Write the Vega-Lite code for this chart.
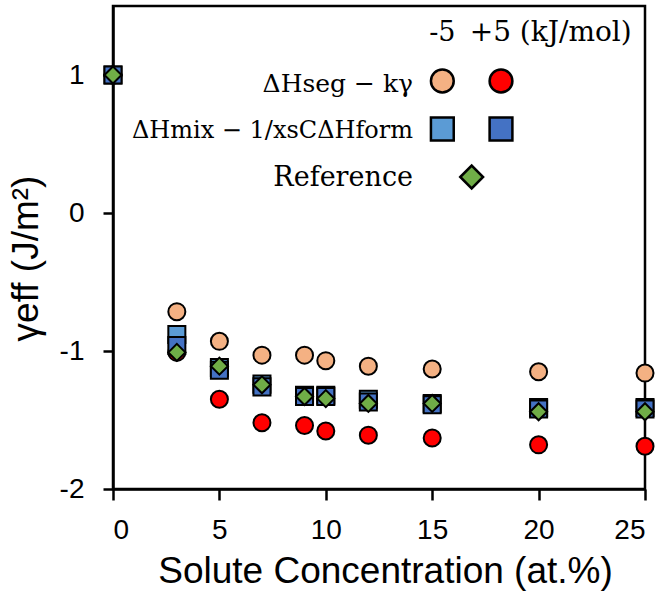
{
  "$schema": "https://vega.github.io/schema/vega-lite/v6.json",
  "width": 532,
  "height": 483,
  "autosize": {"type": "none"},
  "padding": {"left": 113, "top": 6, "right": 20, "bottom": 113},
  "background": "white",
  "config": {
    "view": {"stroke": "black", "strokeWidth": 2.5},
    "font": "Liberation Sans",
    "axis": {
      "grid": false,
      "domainColor": "black",
      "domainWidth": 2.5,
      "tickColor": "black",
      "tickWidth": 2.5,
      "labelColor": "black",
      "labelFont": "Liberation Sans",
      "labelFontSize": 28,
      "titleFont": "Liberation Sans",
      "titleFontSize": 37,
      "titleFontWeight": "normal",
      "titleColor": "black"
    }
  },
  "datasets": {
    "points": [
      {"conc": 0, "gamma": 1, "series": "seg-5"},
      {"conc": 3, "gamma": -0.715, "series": "seg-5"},
      {"conc": 5, "gamma": -0.93, "series": "seg-5"},
      {"conc": 7, "gamma": -1.03, "series": "seg-5"},
      {"conc": 9, "gamma": -1.03, "series": "seg-5"},
      {"conc": 10, "gamma": -1.07, "series": "seg-5"},
      {"conc": 12, "gamma": -1.11, "series": "seg-5"},
      {"conc": 15, "gamma": -1.13, "series": "seg-5"},
      {"conc": 20, "gamma": -1.15, "series": "seg-5"},
      {"conc": 25, "gamma": -1.16, "series": "seg-5"},
      {"conc": 0, "gamma": 1, "series": "seg+5"},
      {"conc": 3, "gamma": -1.01, "series": "seg+5"},
      {"conc": 5, "gamma": -1.35, "series": "seg+5"},
      {"conc": 7, "gamma": -1.52, "series": "seg+5"},
      {"conc": 9, "gamma": -1.54, "series": "seg+5"},
      {"conc": 10, "gamma": -1.58, "series": "seg+5"},
      {"conc": 12, "gamma": -1.61, "series": "seg+5"},
      {"conc": 15, "gamma": -1.63, "series": "seg+5"},
      {"conc": 20, "gamma": -1.68, "series": "seg+5"},
      {"conc": 25, "gamma": -1.69, "series": "seg+5"},
      {"conc": 0, "gamma": 1, "series": "mix-5"},
      {"conc": 3, "gamma": -0.88, "series": "mix-5"},
      {"conc": 5, "gamma": -1.12, "series": "mix-5"},
      {"conc": 7, "gamma": -1.24, "series": "mix-5"},
      {"conc": 9, "gamma": -1.32, "series": "mix-5"},
      {"conc": 10, "gamma": -1.32, "series": "mix-5"},
      {"conc": 12, "gamma": -1.35, "series": "mix-5"},
      {"conc": 15, "gamma": -1.38, "series": "mix-5"},
      {"conc": 20, "gamma": -1.41, "series": "mix-5"},
      {"conc": 25, "gamma": -1.41, "series": "mix-5"},
      {"conc": 0, "gamma": 1, "series": "mix+5"},
      {"conc": 3, "gamma": -0.96, "series": "mix+5"},
      {"conc": 5, "gamma": -1.14, "series": "mix+5"},
      {"conc": 7, "gamma": -1.26, "series": "mix+5"},
      {"conc": 9, "gamma": -1.33, "series": "mix+5"},
      {"conc": 10, "gamma": -1.33, "series": "mix+5"},
      {"conc": 12, "gamma": -1.37, "series": "mix+5"},
      {"conc": 15, "gamma": -1.39, "series": "mix+5"},
      {"conc": 20, "gamma": -1.42, "series": "mix+5"},
      {"conc": 25, "gamma": -1.42, "series": "mix+5"},
      {"conc": 0, "gamma": 1, "series": "ref"},
      {"conc": 3, "gamma": -1.01, "series": "ref"},
      {"conc": 5, "gamma": -1.11, "series": "ref"},
      {"conc": 7, "gamma": -1.245, "series": "ref"},
      {"conc": 9, "gamma": -1.33, "series": "ref"},
      {"conc": 10, "gamma": -1.345, "series": "ref"},
      {"conc": 12, "gamma": -1.38, "series": "ref"},
      {"conc": 15, "gamma": -1.38, "series": "ref"},
      {"conc": 20, "gamma": -1.44, "series": "ref"},
      {"conc": 25, "gamma": -1.44, "series": "ref"}
    ],
    "legend": [
      {"row": "header", "col": "-5", "kind": "head5", "label": "-5"},
      {"row": "header", "col": "ref", "kind": "headplus", "label": "+5 (kJ/mol)"},
      {"row": "seg", "col": "label", "kind": "labelseg", "label": "ΔHseg − kγ"},
      {"row": "mix", "col": "label", "kind": "labelmix", "label": "ΔHmix − 1/xsCΔHform"},
      {"row": "ref", "col": "label", "kind": "labelref", "label": "Reference"},
      {"row": "seg", "col": "-5", "kind": "symbol", "series": "seg-5"},
      {"row": "seg", "col": "+5", "kind": "symbol", "series": "seg+5"},
      {"row": "mix", "col": "-5", "kind": "symbol", "series": "mix-5"},
      {"row": "mix", "col": "+5", "kind": "symbol", "series": "mix+5"},
      {"row": "ref", "col": "ref", "kind": "symbol", "series": "ref"}
    ]
  },
  "layer": [
    {
      "data": {"name": "points"},
      "mark": {"type": "point", "filled": true, "stroke": "black", "strokeWidth": 2, "size": 290, "opacity": 1, "fillOpacity": 1, "strokeOpacity": 1},
      "encoding": {
        "x": {
          "field": "conc", "type": "quantitative",
          "scale": {"domain": [0, 25], "nice": false, "zero": false},
          "axis": {
            "values": [0, 5, 10, 15, 20, 25],
            "tickSize": 11,
            "labelPadding": 16,
            "title": "Solute Concentration (at.%)",
            "titleX": 272,
            "titleY": 93,
            "titleAlign": "center",
            "titleBaseline": "alphabetic",
            "titleAnchor": null
          }
        },
        "y": {
          "field": "gamma", "type": "quantitative",
          "scale": {"domain": [-2, 1.5], "nice": false, "zero": false},
          "axis": {
            "values": [-2, -1, 0, 1],
            "tickSize": 10,
            "labelPadding": 19,
            "labelExpr": "replace(datum.label, '−', '-')",
            "title": "γeff (J/m²)",
            "titleX": -76,
            "titleY": 252,
            "titleAngle": -90,
            "titleAlign": "center",
            "titleBaseline": "alphabetic",
            "titleAnchor": null
          }
        },
        "shape": {
          "field": "series", "type": "nominal",
          "scale": {"domain": ["seg-5", "seg+5", "mix-5", "mix+5", "ref"], "range": ["circle", "circle", "square", "square", "diamond"]},
          "legend": null
        },
        "fill": {
          "field": "series", "type": "nominal",
          "scale": {"domain": ["seg-5", "seg+5", "mix-5", "mix+5", "ref"], "range": ["#F4B183", "#FF0000", "#5B9BD5", "#4472C4", "#70AD47"]},
          "legend": null
        }
      }
    },
    {
      "data": {"name": "legend"},
      "encoding": {
        "x": {
          "field": "col", "type": "nominal",
          "scale": {"type": "point", "domain": ["label", "-5", "ref", "+5"], "range": [300, 388], "padding": 0},
          "axis": null
        },
        "y": {
          "field": "row", "type": "nominal",
          "scale": {"type": "point", "domain": ["header", "seg", "mix", "ref"], "range": [27, 171], "padding": 0},
          "axis": null
        }
      },
      "layer": [
        {
          "transform": [{"filter": "datum.kind === 'symbol'"}],
          "mark": {"type": "point", "filled": true, "stroke": "black", "strokeWidth": 2.5, "size": 520, "opacity": 1, "fillOpacity": 1, "strokeOpacity": 1},
          "encoding": {
            "shape": {
              "field": "series", "type": "nominal",
              "scale": {"domain": ["seg-5", "seg+5", "mix-5", "mix+5", "ref"], "range": ["circle", "circle", "square", "square", "diamond"]},
              "legend": null
            },
            "fill": {
              "field": "series", "type": "nominal",
              "scale": {"domain": ["seg-5", "seg+5", "mix-5", "mix+5", "ref"], "range": ["#F4B183", "#FF0000", "#5B9BD5", "#4472C4", "#70AD47"]},
              "legend": null
            }
          }
        },
        {
          "transform": [{"filter": "datum.kind === 'head5'"}],
          "mark": {"type": "text", "font": "DejaVu Serif", "fontSize": 27, "align": "center", "baseline": "middle", "color": "black", "dx": 0},
          "encoding": {"text": {"field": "label"}}
        },
        {
          "transform": [{"filter": "datum.kind === 'headplus'"}],
          "mark": {"type": "text", "font": "DejaVu Serif", "fontSize": 28, "align": "left", "baseline": "middle", "color": "black", "dx": -2},
          "encoding": {"text": {"field": "label"}}
        },
        {
          "transform": [{"filter": "datum.kind === 'labelseg'"}],
          "mark": {"type": "text", "font": "DejaVu Serif", "fontSize": 25, "align": "right", "baseline": "middle", "color": "black", "dy": 3},
          "encoding": {"text": {"field": "label"}}
        },
        {
          "transform": [{"filter": "datum.kind === 'labelmix'"}],
          "mark": {"type": "text", "font": "DejaVu Serif", "fontSize": 24, "align": "right", "baseline": "middle", "color": "black", "dy": 2},
          "encoding": {"text": {"field": "label"}}
        },
        {
          "transform": [{"filter": "datum.kind === 'labelref'"}],
          "mark": {"type": "text", "font": "DejaVu Serif", "fontSize": 27, "align": "right", "baseline": "middle", "color": "black", "dy": 1},
          "encoding": {"text": {"field": "label"}}
        }
      ]
    }
  ],
  "resolve": {"scale": {"x": "independent", "y": "independent"}}
}
